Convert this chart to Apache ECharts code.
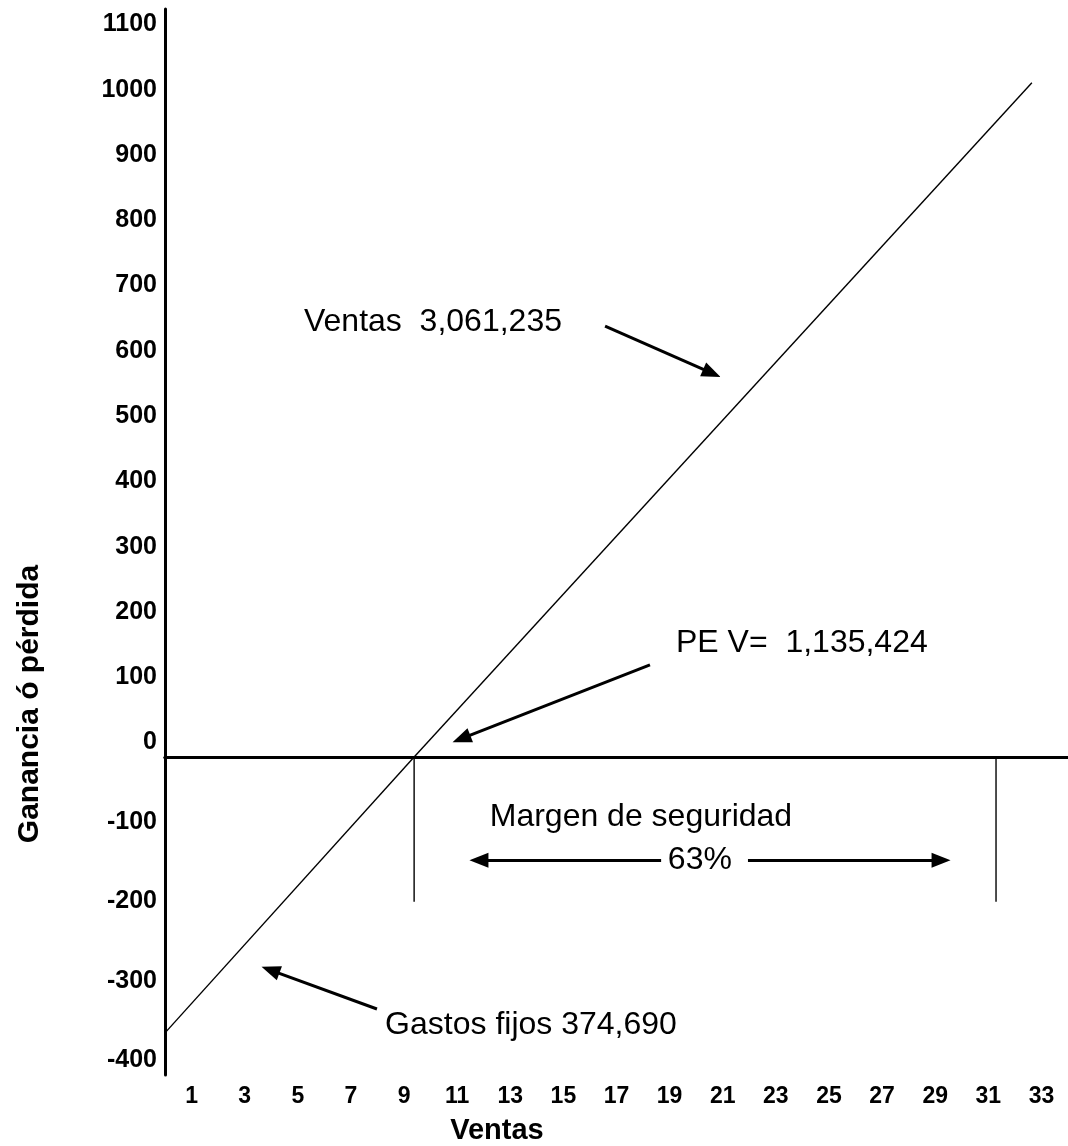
<!DOCTYPE html>
<html><head><meta charset="utf-8">
<script src="https://cdn.jsdelivr.net/npm/echarts@6.0.0/dist/echarts.min.js"></script>
<style>html,body{margin:0;padding:0;background:#fff}#c{width:1068px;height:1146px}</style>
</head><body><div id="c"></div>
<script>
// ---- data ----
const xTicks = [1,3,5,7,9,11,13,15,17,19,21,23,25,27,29,31,33];
const yTicksTop = [0,100,200,300,400,500,600,700,800,900,1000,1100];
const yTicksBottom = [-100,-200,-300,-400];
// break-even line (ventas vs ganancia/pérdida)
const lossX = [0, 9.38];
const lossY = [-347, 0];
const gainX = [9.38, 32.64];
const gainY = [0, 1033];
// margin-of-safety vertical markers
const markerX = [9.38, 31.29];
const markerY = [0, -182];
// annotation texts (top panel / bottom panel)
const noteTopText = ['Ventas  3,061,235', 'PE V=  1,135,424'];
const noteTopX = [10.09, 23.98];
const noteTopY = [666, 175];
const noteBotText = ['Margen de seguridad', '63%', 'Gastos fijos 374,690'];
const noteBotX = [17.92, 20.14, 13.78];
const noteBotY = [-76, -130, -337];
// arrows: from -> to
const arrowTopFromX = [16.57, 18.26], arrowTopFromY = [660, 141];
const arrowTopToX = [20.59, 11.16], arrowTopToY = [588, 28];
const arrowBotFromX = [18.68, 21.95, 7.98], arrowBotFromY = [-130, -130, -317];
const arrowBotToX = [11.82, 29.22, 3.97], arrowBotToY = [-130, -130, -268];

const FONT = 'Arial, "Liberation Sans", sans-serif';
const pairs = (xs, ys) => xs.map((x, i) => [x, ys[i]]);
const arrows = (fx, fy, tx, ty) => fx.map((x, i) => [{coord: [x, fy[i]]}, {coord: [tx[i], ty[i]]}]);
const notes = (t, xs, ys) => t.map((s, i) => ({coord: [xs[i], ys[i]], value: s}));

const axisLineStyle = {show: true, lineStyle: {color: '#000', width: 3}};
const arrowMark = data => ({
  silent: true, animation: false,
  symbol: ['none', 'triangle'], symbolSize: [15, 19],
  lineStyle: {color: '#000', width: 3, type: 'solid'},
  itemStyle: {color: '#000'},
  label: {show: false},
  emphasis: {disabled: true},
  data: data
});
const noteMark = data => ({
  silent: true, animation: false,
  symbol: 'rect', symbolSize: 1,
  itemStyle: {color: 'rgba(0,0,0,0)'},
  label: {show: true, position: 'inside', color: '#000', fontSize: 32, fontFamily: FONT,
          formatter: p => p.value},
  data: data
});
const plain = v => String(v);

const option = {
  animation: false,
  backgroundColor: '#fff',
  grid: [
    {left: 165, right: 0, top: 9, height: 748},
    {left: 165, right: 0, top: 757, height: 322}
  ],
  xAxis: [
    {gridIndex: 0, type: 'value', min: 0, max: 34,
     axisLine: axisLineStyle, axisTick: {show: false}, axisLabel: {show: false}, splitLine: {show: false}},
    {gridIndex: 1, type: 'value', min: 0, max: 34,
     axisLine: axisLineStyle, axisTick: {show: false}, splitLine: {show: false},
     axisLabel: {customValues: xTicks, formatter: plain, color: '#000', fontSize: 23, fontWeight: 'bold', fontFamily: FONT, margin: 10},
     name: 'Ventas', nameLocation: 'middle', nameGap: 41,
     nameTextStyle: {color: '#000', fontSize: 29, fontWeight: 'bold', fontFamily: FONT, padding: [0, 239, 0, 0]}}
  ],
  yAxis: [
    {gridIndex: 0, type: 'value', min: 0, max: 1146,
     axisLine: axisLineStyle, axisTick: {show: false}, splitLine: {show: false},
     axisLabel: {customValues: yTicksTop, formatter: plain, color: '#000', fontSize: 25, fontWeight: 'bold', fontFamily: FONT,
                 margin: 8, verticalAlign: 'bottom', padding: [0, 0, 2, 0]}},
    {gridIndex: 1, type: 'value', min: -400, max: 0,
     axisLine: axisLineStyle, axisTick: {show: false}, splitLine: {show: false},
     axisLabel: {customValues: yTicksBottom, formatter: plain, color: '#000', fontSize: 25, fontWeight: 'bold', fontFamily: FONT,
                 margin: 8, verticalAlign: 'bottom', padding: [0, 0, 2, 0]},
     name: 'Ganancia ó pérdida', nameLocation: 'middle', nameGap: 120,
     nameTextStyle: {color: '#000', fontSize: 30, fontWeight: 'bold', fontFamily: FONT, padding: [0, 0, 0, 424]}}
  ],
  series: [
    {type: 'line', xAxisIndex: 0, yAxisIndex: 0, data: pairs(gainX, gainY), symbol: 'none',
     lineStyle: {color: '#000', width: 1.4}, silent: true,
     markLine: arrowMark(arrows(arrowTopFromX, arrowTopFromY, arrowTopToX, arrowTopToY)),
     markPoint: noteMark(notes(noteTopText, noteTopX, noteTopY))},
    {type: 'line', xAxisIndex: 1, yAxisIndex: 1, data: pairs(lossX, lossY), symbol: 'none',
     lineStyle: {color: '#000', width: 1.4}, silent: true,
     markLine: arrowMark(arrows(arrowBotFromX, arrowBotFromY, arrowBotToX, arrowBotToY)),
     markPoint: noteMark(notes(noteBotText, noteBotX, noteBotY))},
    {type: 'line', xAxisIndex: 1, yAxisIndex: 1, data: pairs([markerX[0], markerX[0]], markerY), symbol: 'none',
     lineStyle: {color: '#000', width: 1.4}, silent: true},
    {type: 'line', xAxisIndex: 1, yAxisIndex: 1, data: pairs([markerX[1], markerX[1]], markerY), symbol: 'none',
     lineStyle: {color: '#000', width: 1.4}, silent: true}
  ]
};
const chart = echarts.init(document.getElementById('c'), null, {renderer: 'canvas'});
chart.setOption(option);
</script>
</body></html>
